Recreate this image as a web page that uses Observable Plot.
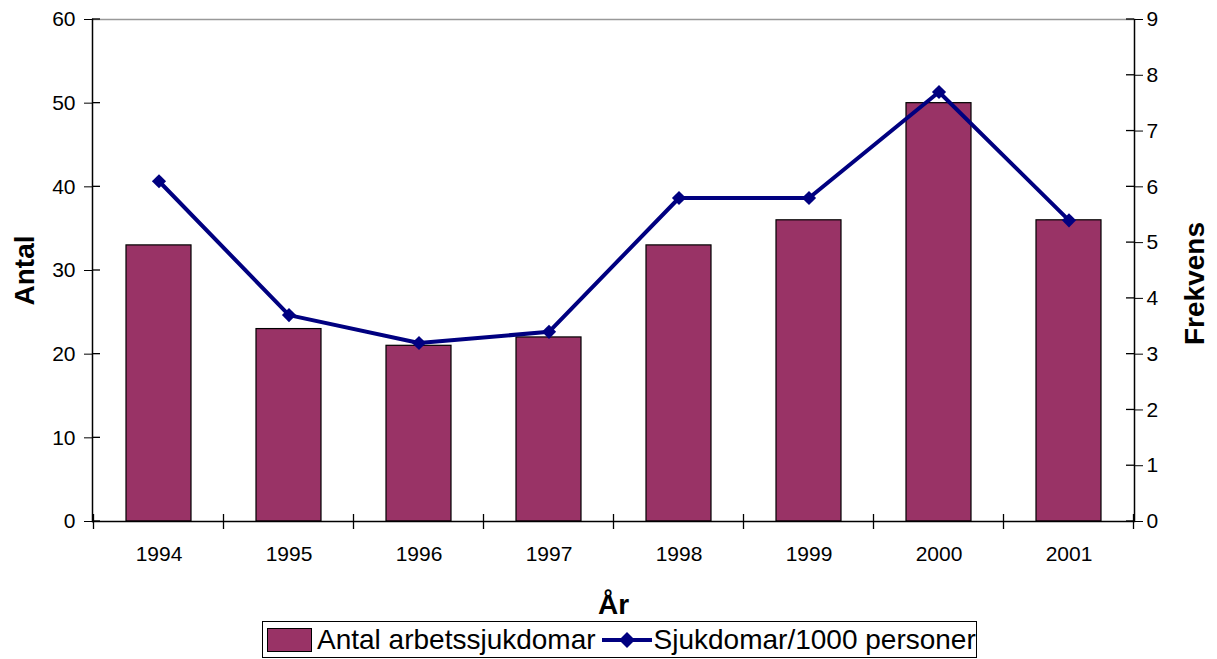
<!DOCTYPE html>
<html>
<head>
<meta charset="utf-8">
<script src="https://cdn.jsdelivr.net/npm/d3@7"></script>
<script src="https://cdn.jsdelivr.net/npm/@observablehq/plot@0.6"></script>
<style>
  body { margin: 0; background: #fff; font-family: "Liberation Sans", Arial, sans-serif; }
  #wrap { position: relative; width: 1217px; height: 659px; }
  #legend { position: absolute; left: 262px; top: 621px; width: 713px; height: 35px; border: 1px solid #000;
    display: flex; align-items: center; font-size: 28px; color: #000; white-space: nowrap; }
  .sw { display: inline-block; width: 43px; height: 22px; background: #993366; border: 1px solid #000; margin-left: 4px; margin-right: 5px; }
</style>
</head>
<body>
<div id="wrap"></div>
<script>
const years = ["1994", "1995", "1996", "1997", "1998", "1999", "2000", "2001"];
const antal = [33, 23, 21, 22, 33, 36, 50, 36];
const frekvens = [6.1, 3.7, 3.2, 3.4, 5.8, 5.8, 7.7, 5.4];
const leftTicks = [0, 10, 20, 30, 40, 50, 60];
const rightTicks = [0, 1, 2, 3, 4, 5, 6, 7, 8, 9];
const leftMax = 60, rightMax = 9;
const k = leftMax / rightMax;

const data = years.map((y, i) => ({year: y, antal: antal[i], frek: frekvens[i]}));

const plot = Plot.plot({
  width: 1217,
  height: 620,
  marginLeft: 92,
  marginRight: 83,
  marginTop: 19,
  marginBottom: 99,
  style: {fontFamily: "'Liberation Sans', Arial, sans-serif", fontSize: "21px", color: "#000", background: "#fff"},
  x: {type: "band", domain: years, paddingInner: 0.5, paddingOuter: 0.25},
  y: {domain: [0, leftMax]},
  marks: [
    Plot.barY(data, {x: "year", y: "antal", fill: "#993366", stroke: "#000", strokeWidth: 1.2}),
    Plot.ruleY([leftMax], {stroke: "#999", strokeWidth: 1.5}),
    Plot.ruleY([0], {stroke: "#000", strokeWidth: 1.5}),
    Plot.frame({anchor: "left", stroke: "#000", strokeWidth: 1.5}),
    Plot.frame({anchor: "right", stroke: "#000", strokeWidth: 1.5}),
    Plot.line(data, {x: "year", y: d => d.frek * k, stroke: "#000080", strokeWidth: 4}),
    Plot.dot(data, {x: "year", y: d => d.frek * k, symbol: "diamond2", r: 6.4, fill: "#000080", stroke: "none"}),
    Plot.axisY({anchor: "left", ticks: leftTicks, tickSize: 8, tickPadding: 9, fontSize: 21,
      label: null}),
    Plot.axisY({anchor: "right", ticks: rightTicks.map(v => v * k), tickFormat: d => String(Math.round(d / k)),
      tickSize: 8, tickPadding: 4, fontSize: 21, label: null}),
    Plot.axisX({tickSize: 0, tickPadding: 25, fontSize: 21, label: null}),
    Plot.text(["Antal"], {frameAnchor: "left", dx: -67, rotate: -90, fontSize: 28, fontWeight: "bold", lineAnchor: "middle", textAnchor: "middle"}),
    Plot.text(["Frekvens"], {frameAnchor: "right", dx: 61, dy: 13, rotate: -90, fontSize: 28, fontWeight: "bold", lineAnchor: "middle", textAnchor: "middle"}),
    Plot.text(["År"], {frameAnchor: "bottom", dy: 84, fontSize: 28, fontWeight: "bold", lineAnchor: "middle"})
  ]
});

// extra tick segments: inner halves of y ticks and x category boundary ticks, from the plot's scales
const xs = plot.scale("x"), ys = plot.scale("y");
const svg = d3.select(plot);
const g = svg.append("g").attr("stroke", "#000").attr("stroke-width", 1.3);
const xLeft = 92, xRight = 1217 - 83;
leftTicks.forEach(t => {
  const y = ys.apply(t);
  g.append("line").attr("x1", xLeft).attr("x2", xLeft + 8).attr("y1", y).attr("y2", y);
});
rightTicks.forEach(t => {
  const y = ys.apply(t * k);
  g.append("line").attr("x1", xRight - 8).attr("x2", xRight).attr("y1", y).attr("y2", y);
});
const gap = (xs.step - xs.bandwidth) / 2;
const bounds = years.map(yr => xs.apply(yr) - gap);
bounds.push(xs.apply(years[years.length - 1]) + xs.bandwidth + gap);
const y0 = ys.apply(0);
bounds.forEach(bx => {
  g.append("line").attr("x1", bx).attr("x2", bx).attr("y1", y0 - 7).attr("y2", y0 + 8);
});

const wrap = document.getElementById("wrap");
wrap.appendChild(plot);

const legend = document.createElement("div");
legend.id = "legend";
legend.innerHTML = `<span class="sw"></span><span>Antal arbetssjukdomar</span>
<svg width="50" height="24" style="margin-left:6px;margin-right:2px"><line x1="0" y1="12" x2="50" y2="12" stroke="#000080" stroke-width="4"/><path d="M25 4 L33 12 L25 20 L17 12 Z" fill="#000080"/></svg><span>Sjukdomar/1000 personer</span>`;
wrap.appendChild(legend);
</script>
</body>
</html>
